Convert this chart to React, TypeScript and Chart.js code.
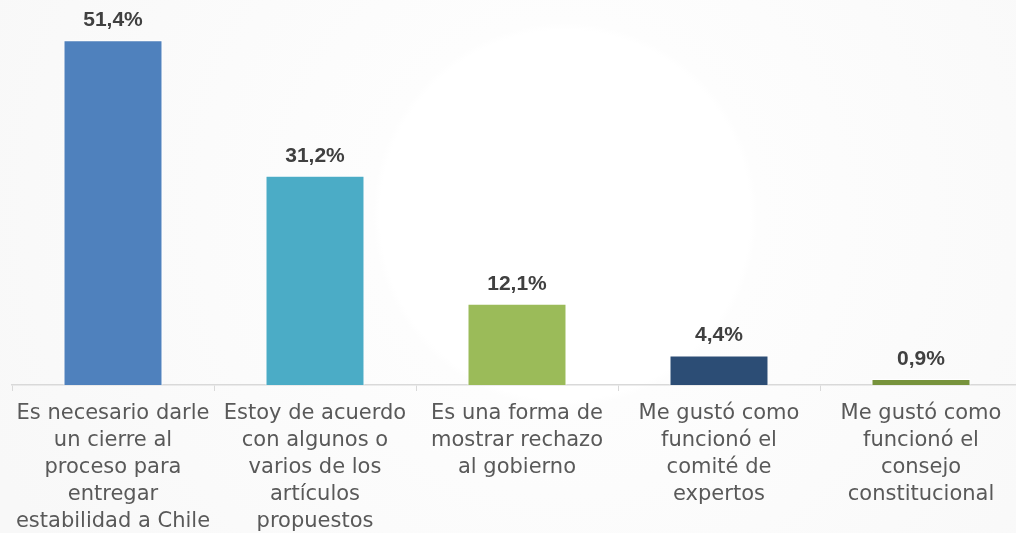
import React, { useEffect, useRef } from "react";
import { Chart, registerables } from "chart.js";

Chart.register(...registerables);

const categories: string[][] = [
  ["Es necesario darle", "un cierre al", "proceso para", "entregar", "estabilidad a Chile"],
  ["Estoy de acuerdo", "con algunos o", "varios de los", "artículos", "propuestos"],
  ["Es una forma de", "mostrar rechazo", "al gobierno"],
  ["Me gustó como", "funcionó el", "comité de", "expertos"],
  ["Me gustó como", "funcionó el", "consejo", "constitucional"],
];
const values: number[] = [51.4, 31.2, 12.1, 4.4, 0.9];
const valueLabels: string[] = ["51,4%", "31,2%", "12,1%", "4,4%", "0,9%"];
const barColors: string[] = ["#4F81BD", "#4BACC6", "#9BBB59", "#2C4D75", "#77933C"];

const valueLabelPlugin = {
  id: "valueLabels",
  afterDatasetsDraw(chart: any) {
    const ctx = chart.ctx;
    const meta = chart.getDatasetMeta(0);
    ctx.save();
    ctx.font = "bold 21px 'Liberation Sans'";
    ctx.fillStyle = "#404040";
    ctx.textAlign = "center";
    ctx.textBaseline = "alphabetic";
    meta.data.forEach((bar: any, i: number) => {
      ctx.fillText(valueLabels[i], bar.x, bar.y - 14);
    });
    ctx.restore();
  },
};

export default function App() {
  const ref = useRef<HTMLCanvasElement | null>(null);
  useEffect(() => {
    document.body.style.margin = "0";
    document.body.style.overflow = "hidden";
    const chart = new Chart(ref.current as HTMLCanvasElement, {
      type: "bar",
      data: {
        labels: categories,
        datasets: [
          {
            data: values,
            backgroundColor: barColors,
            borderColor: "#ffffff",
            borderWidth: 1,
            categoryPercentage: 1,
            barPercentage: 0.49,
          },
        ],
      },
      options: {
        animation: false,
        responsive: false,
        maintainAspectRatio: false,
        layout: { padding: { top: 16, left: 12, right: 0, bottom: 0 } },
        plugins: { legend: { display: false }, tooltip: { enabled: false } },
        scales: {
          x: {
            afterFit: (scale: any) => {
              scale.height = 148;
            },
            border: { display: true, color: "#d9d9d9", width: 1.5 },
            grid: {
              display: true,
              drawOnChartArea: false,
              drawTicks: true,
              tickLength: 6,
              color: "#d9d9d9",
              offset: true,
            },
            ticks: {
              color: "#595959",
              font: { family: "'DejaVu Sans'", size: 21, lineHeight: 1.29 },
              padding: 9,
              maxRotation: 0,
              autoSkip: false,
            },
          },
          y: {
            display: false,
            min: 0,
            max: 55,
          },
        },
      },
      plugins: [valueLabelPlugin],
    });
    return () => chart.destroy();
  }, []);
  return (
    <div
      style={{
        position: "fixed",
        left: 0,
        top: 0,
        width: 1016,
        height: 533,
        overflow: "hidden",
        background:
          "radial-gradient(circle at 565px 215px, #ffffff 0px, #ffffff 185px, #fdfdfd 192px, #f8f8f8 620px)",
      }}
    >
      <canvas ref={ref} width={1022} height={533} style={{ display: "block" }} />
    </div>
  );
}
